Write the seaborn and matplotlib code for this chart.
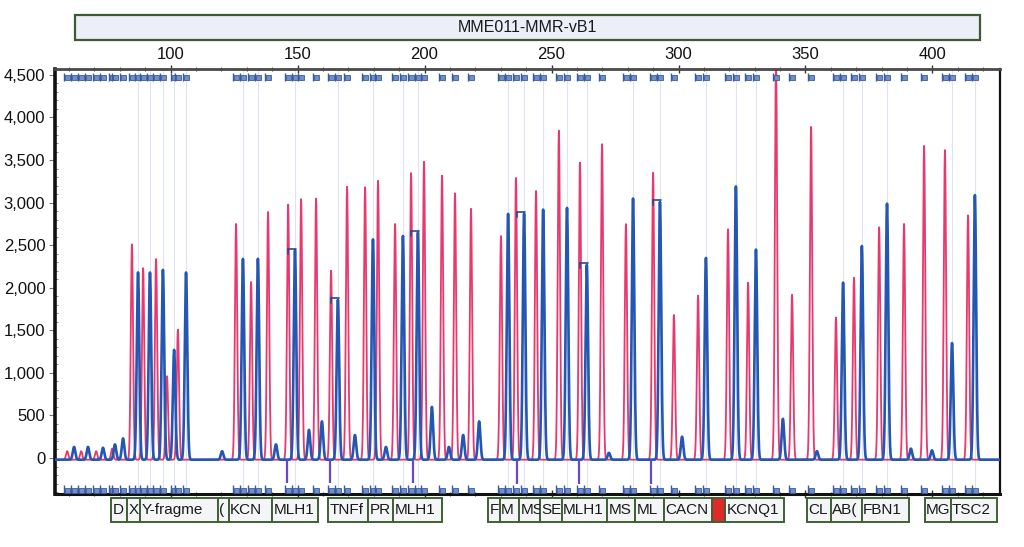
import numpy as np
import pandas as pd
import matplotlib
matplotlib.use("Agg")
import matplotlib.pyplot as plt
import matplotlib.transforms as mtransforms
from matplotlib.patches import Rectangle
from matplotlib.ticker import MultipleLocator
import seaborn as sns

# ---------------- data ----------------
title = "MME011-MMR-vB1"

red_pos = [59.3, 64.8, 70.7, 77.0, 84.8, 89.2, 94.3, 98.6, 102.9, 125.8, 131.7, 138.4,
           146.3, 151.4, 157.3, 163.2, 169.5, 176.6, 181.7, 188.4, 194.7, 199.8, 206.9,
           212.0, 218.3, 230.1, 236.0, 243.9, 252.9, 261.2, 269.9, 279.3, 290.0, 298.2,
           307.7, 319.5, 327.4, 338.4, 344.7, 352.2, 362.0, 369.1, 379.0, 388.8, 396.7,
           404.9, 414.0]
red_h = [100, 100, 100, 130, 2530, 2250, 2360, 980, 1530, 2770, 2090, 2910,
         3000, 3060, 3070, 2220, 3210, 3200, 3280, 2770, 3370, 3500, 3340,
         3130, 2950, 2630, 3310, 3160, 3870, 3490, 3710, 2770, 3370, 1700,
         1930, 2710, 2080, 4700, 1940, 3910, 1670, 2140, 2730, 2770, 3690,
         3640, 2870]

blue_pos = [62.0, 67.5, 73.4, 78.1, 81.3, 87.2, 91.9, 97.0, 101.4, 106.1, 120.3, 128.5,
            134.4, 141.5, 149.0, 154.5, 159.6, 165.9, 172.6, 179.7, 184.8, 191.5, 197.4,
            202.9, 209.6, 215.2, 221.5, 232.9, 239.2, 246.7, 256.1, 263.9, 272.6, 282.1,
            292.7, 301.4, 310.8, 322.6, 330.5, 341.1, 354.5, 364.8, 372.2, 382.1, 391.5,
            399.8, 407.7, 416.7]
blue_h = [150, 150, 140, 180, 250, 2200, 2200, 2230, 1290, 2200, 100, 2360,
          2360, 180, 2460, 350, 450, 1880, 290, 2590, 150, 2630, 2670,
          620, 150, 290, 450, 2890, 2890, 2940, 2960, 2290, 80, 3070,
          3030, 270, 2370, 3210, 2470, 480, 100, 2080, 2510, 3010, 130,
          110, 1370, 3110]

marked_blue = [149.0, 165.9, 197.4, 239.2, 263.9, 292.7]
marked_h = [2460, 1880, 2670, 2890, 2290, 3030]

dip_pos = [145.9, 162.8, 195.5, 236.4, 260.8, 289.2]
dip_depth = [-290, -290, -290, -300, -300, -300]

box_left = [76.6, 82.9, 88.0, 118.7, 123.0, 140.0,
            162.0, 177.8, 187.6,
            225.0, 229.7, 237.2, 245.5, 254.1, 271.9, 282.9, 294.3, 313.2, 318.3,
            350.6, 360.0, 372.2,
            397.0, 407.2]
box_right = [82.9, 88.0, 118.7, 123.0, 140.0, 158.1,
             177.8, 187.6, 206.9,
             229.7, 237.2, 245.5, 254.1, 271.9, 282.9, 294.3, 313.2, 318.3, 341.5,
             360.0, 372.2, 390.7,
             407.2, 425.4]
box_text = ["D", "X", "Y-fragme", "(", "KCN", "MLH1",
            "TNFf", "PR", "MLH1",
            "F", "M", "MS", "SE", "MLH1", "MS", "ML", "CACN", "", "KCNQ1",
            "CL", "AB(", "FBN1",
            "MG", "TSC2"]
box_red = [False] * 17 + [True] + [False] * 6

x_ticks = [100, 150, 200, 250, 300, 350, 400]
y_ticks = [0, 500, 1000, 1500, 2000, 2500, 3000, 3500, 4000, 4500]

# ---------------- build traces from the peak lists ----------------
grid = np.arange(50.0, 430.0, 0.04)
def trace(pos, h, sigma):
    y = np.full_like(grid, -20.0)
    for p, a in zip(pos, h):
        y += a * np.exp(-0.5 * ((grid - p) / sigma) ** 2)
    return y

df = pd.concat([
    pd.DataFrame({"size": grid, "rfu": trace(red_pos, red_h, 0.45), "dye": "red"}),
    pd.DataFrame({"size": grid, "rfu": trace(blue_pos, blue_h, 0.5), "dye": "blue"}),
])

RED = "#e8386e"
BLUE = "#2456b4"

sns.set_theme(style="white")
plt.rcParams["font.family"] = ["Liberation Sans", "DejaVu Sans"]

fig = plt.figure(figsize=(10.24, 5.47), dpi=100)
ax = fig.add_axes([0.0537, 0.0969, 0.9229, 0.777])

# faint bin guide lines
for p, h in zip(blue_pos, blue_h):
    if h > 1200:
        ax.axvline(p, color="#dde3f0", lw=0.8, zorder=0)

sns.lineplot(data=df[df.dye == "red"], x="size", y="rfu", color=RED, lw=1.3,
             estimator=None, sort=False, ax=ax, zorder=2)
sns.lineplot(data=df[df.dye == "blue"], x="size", y="rfu", color=BLUE, lw=1.9,
             estimator=None, sort=False, ax=ax, zorder=3)

# negative dips
ax.vlines(dip_pos, -20, dip_depth, color="#6a47c8", lw=1.6, zorder=3)

# marked peaks (small ticks left of apex)
for p, h in zip(marked_blue, marked_h):
    ax.plot([p - 2.6, p + 0.4], [h, h], color="#2a4a8a", lw=1.2, zorder=4)
    ax.plot([p - 2.6, p - 2.6], [h, h - 60], color="#2a4a8a", lw=1.2, zorder=4)

# bin markers at top and bottom
mk = sorted(p for p, h in zip(blue_pos + red_pos, blue_h + red_h) if h > 1200 or p < 82)
ax.plot(mk, [4470] * len(mk), ls="none", marker="s", ms=3.6, color="#6d8fcf",
        mec="#3b5a9a", mew=0.6, zorder=5, clip_on=False)
ax.plot([m - 1.1 for m in mk], [4480] * len(mk), ls="none", marker="|", ms=6,
        color="#3b5a9a", mew=1.0, zorder=5, clip_on=False)
ax.plot(mk, [-375] * len(mk), ls="none", marker="s", ms=3.6, color="#6d8fcf",
        mec="#3b5a9a", mew=0.6, zorder=5, clip_on=False)
ax.plot([m - 1.1 for m in mk], [-370] * len(mk), ls="none", marker="|", ms=6,
        color="#3b5a9a", mew=1.0, zorder=5, clip_on=False)

ax.set_xlim(54.5, 426.6)
ax.set_ylim(-423, 4570)
ax.set_xlabel("")
ax.set_ylabel("")
ax.xaxis.tick_top()
ax.set_xticks(x_ticks, labels=[str(v) for v in x_ticks])
ax.xaxis.set_minor_locator(MultipleLocator(10))
ax.set_yticks(y_ticks, labels=[f"{v:,}" for v in y_ticks])
ax.yaxis.set_minor_locator(MultipleLocator(100))
ax.tick_params(axis="x", which="major", top=True, bottom=True, labeltop=True,
               labelbottom=False, direction="inout", length=6, width=1.0,
               labelsize=12, colors="#333333", labelcolor="#111111", pad=2)
ax.tick_params(axis="x", which="minor", top=True, bottom=True, direction="inout",
               length=3, width=0.8, colors="#555555")
ax.tick_params(axis="y", which="major", left=True, direction="out", length=4,
               width=0.8, labelsize=12, colors="#777777", labelcolor="#111111", pad=3)
ax.tick_params(axis="y", which="minor", left=True, direction="in", length=2,
               width=0.6, colors="#777777")
for s, lw, c in [("left", 2.6, "#111111"), ("right", 1.6, "#111111"),
                 ("top", 2.0, "#4a4a4a"), ("bottom", 2.2, "#111111")]:
    ax.spines[s].set_visible(True)
    ax.spines[s].set_linewidth(lw)
    ax.spines[s].set_color(c)

# bottom probe label boxes
trans = mtransforms.blended_transform_factory(ax.transData, ax.transAxes)
for l, r, t, red in zip(box_left, box_right, box_text, box_red):
    rect = Rectangle((l, -0.066), r - l, 0.057, transform=trans, clip_on=False,
                     facecolor="#e02a2a" if red else "#f3f5f6",
                     edgecolor="#3f5f34", lw=1.4, zorder=5)
    ax.add_patch(rect)
    txt = ax.text(l + 0.5, -0.038, t, transform=trans, ha="left", va="center",
                  fontsize=11, color="#1a1a1a", zorder=6)
    txt.set_clip_path(rect)
    txt.set_clip_on(True)

# title bar
fig.patches.append(Rectangle((0.0732, 0.927), 0.884, 0.046, transform=fig.transFigure,
                             facecolor="#eceef8", edgecolor="#3f5a32", lw=1.6))
fig.text(0.515, 0.950, title, ha="center", va="center", fontsize=11.5, color="#1a1a1a")

fig.savefig("out.png", dpi=100)
